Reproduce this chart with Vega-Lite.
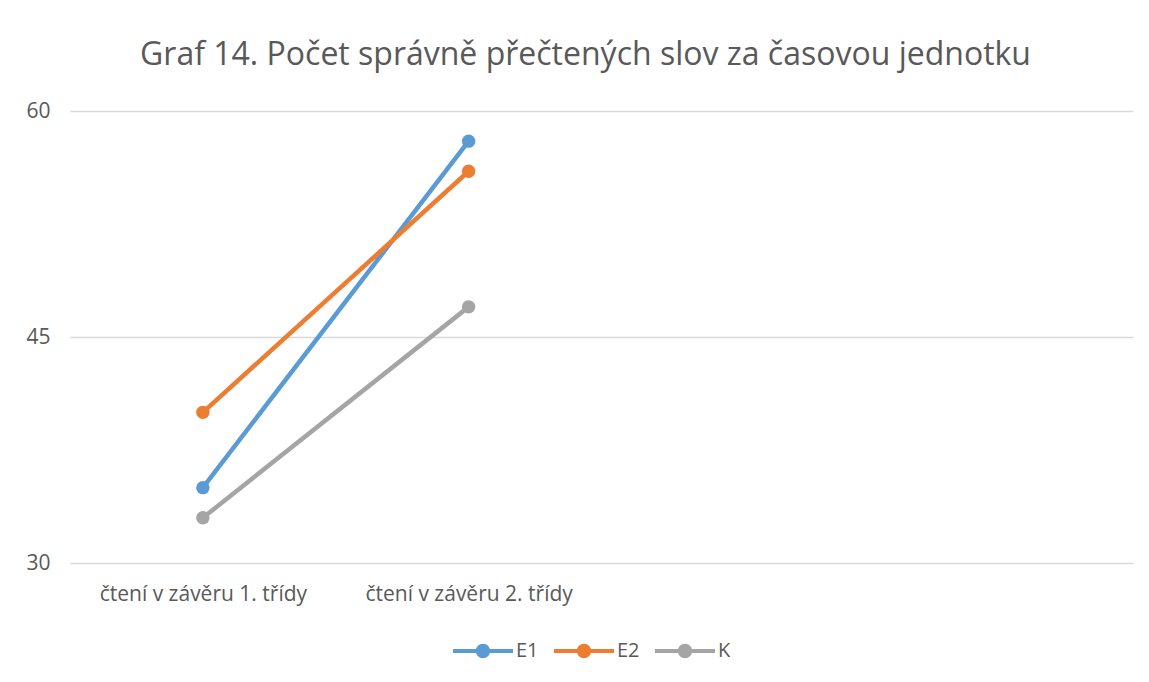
{
  "$schema": "https://vega.github.io/schema/vega-lite/v6.json",
  "autosize": "none",
  "width": 1063,
  "height": 452,
  "padding": {"left": 70, "top": 111, "right": 16, "bottom": 119},
  "background": "white",
  "title": {
    "text": "Graf 14. Počet správně přečtených slov za časovou jednotku",
    "font": "Open Sans",
    "fontSize": 32,
    "fontWeight": "normal",
    "color": "#595959",
    "anchor": "middle",
    "dx": -16,
    "offset": 28
  },
  "data": {
    "values": [
      {"obdobi": "čtení v závěru 1. třídy", "skupina": "E1", "hodnota": 35},
      {"obdobi": "čtení v závěru 2. třídy", "skupina": "E1", "hodnota": 58},
      {"obdobi": "čtení v závěru 1. třídy", "skupina": "E2", "hodnota": 40},
      {"obdobi": "čtení v závěru 2. třídy", "skupina": "E2", "hodnota": 56},
      {"obdobi": "čtení v závěru 1. třídy", "skupina": "K", "hodnota": 33},
      {"obdobi": "čtení v závěru 2. třídy", "skupina": "K", "hodnota": 47}
    ]
  },
  "encoding": {
    "x": {
      "field": "obdobi",
      "type": "nominal",
      "sort": null,
      "scale": {
        "type": "point",
        "padding": 0.5,
        "domain": ["čtení v závěru 1. třídy", "čtení v závěru 2. třídy", "_3", "_4"]
      },
      "axis": {
        "title": null,
        "labelAngle": 0,
        "domain": false,
        "ticks": false,
        "grid": false,
        "labelFont": "Open Sans",
        "labelFontSize": 21,
        "labelColor": "#595959",
        "labelPadding": 20,
        "labelLimit": 500,
        "labelExpr": "indexof(datum.label, 'čtení') >= 0 ? datum.label : ''"
      }
    },
    "y": {
      "field": "hodnota",
      "type": "quantitative",
      "scale": {"domain": [30, 60], "nice": false, "zero": false},
      "axis": {
        "title": null,
        "values": [30, 45, 60],
        "domain": false,
        "ticks": false,
        "grid": true,
        "gridColor": "#D9D9D9",
        "gridWidth": 1.3,
        "labelFont": "Open Sans",
        "labelFontSize": 21,
        "labelColor": "#595959",
        "labelPadding": 20
      }
    },
    "color": {
      "field": "skupina",
      "type": "nominal",
      "scale": {"domain": ["E1", "E2", "K"], "range": ["#5B9BD5", "#ED7D31", "#A5A5A5"]},
      "legend": {
        "title": null,
        "orient": "none",
        "direction": "horizontal",
        "legendX": 383,
        "legendY": 510,
        "symbolType": "M-1,-0.07 H1 V0.07 H-1 Z M0.24,0 A0.24,0.24 0 1,1 -0.24,0 A0.24,0.24 0 1,1 0.24,0 Z",
        "symbolSize": 3600,
        "symbolStrokeWidth": 0,
        "labelFont": "Open Sans",
        "labelFontSize": 20,
        "labelColor": "#595959",
        "labelOffset": 3,
        "columnPadding": 15,
        "encode": {
          "symbols": {
            "update": {
              "fill": {"scale": "color", "field": "value"},
              "fillOpacity": {"value": 1},
              "strokeWidth": {"value": 0}
            }
          }
        }
      }
    }
  },
  "layer": [
    {"mark": {"type": "line", "strokeWidth": 4.5, "strokeCap": "round"}},
    {"mark": {"type": "point", "filled": true, "size": 180, "opacity": 1}}
  ],
  "config": {"view": {"stroke": null}}
}
